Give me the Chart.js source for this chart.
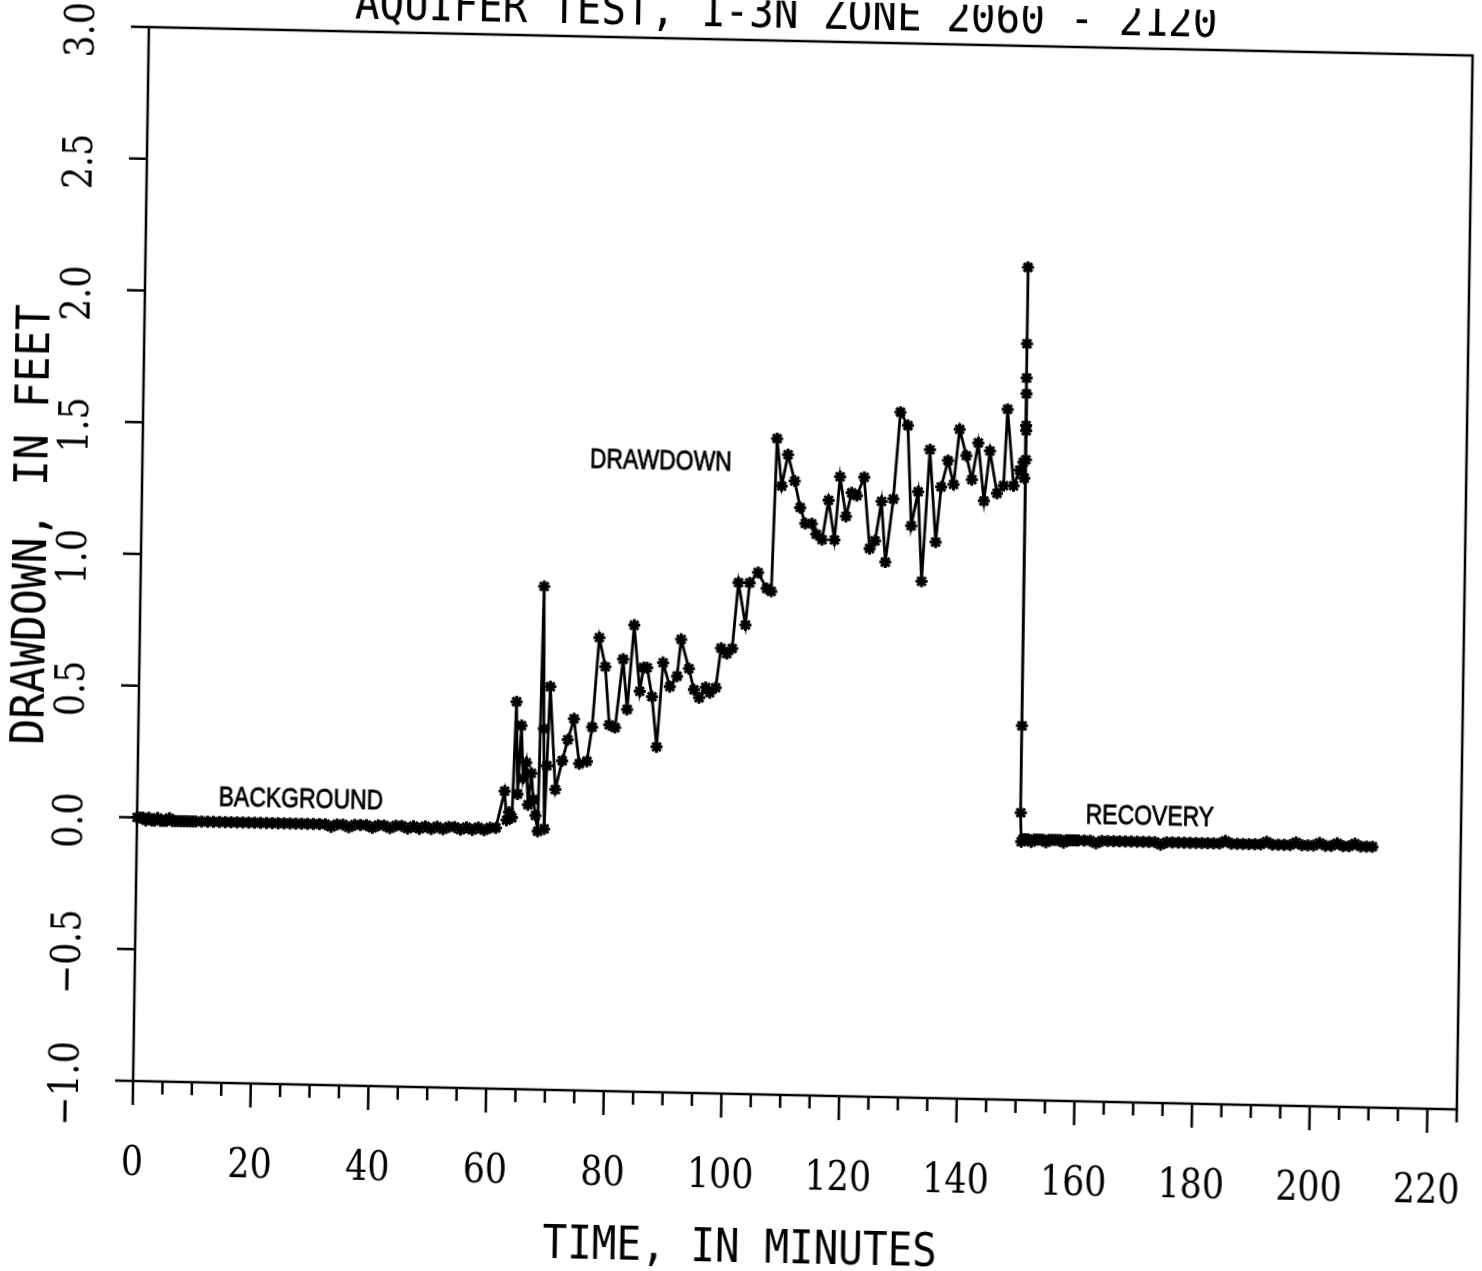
<!DOCTYPE html>
<html>
<head>
<meta charset="utf-8">
<title>Aquifer test 1-3N</title>
<script src="https://cdn.jsdelivr.net/npm/chart.js@4.4.1/dist/chart.umd.min.js"></script>
<style>
  html, body { margin: 0; padding: 0; background: #fff; overflow: hidden; }
  /* el trazado original sale torcido: giro + un poco de cizalla */
  #grafico { display: block; transform: matrix(1, 0.0215, -0.015, 1, 0, 0); transform-origin: 50% 50%; }
</style>
</head>
<body>
<canvas id="grafico" width="1482" height="1271"></canvas>
<script>
// Datos del ensayo (minutos / pies)

// Fondo antes del bombeo
const bgTime = [0, 0.5, 1, 1.5, 2, 2.5, 3, 3.5, 4, 4.5, 5, 5.5, 6, 6.5, 7, 7.5, 8, 8.5, 9, 9.5, 10,
  11, 12, 13, 14, 15, 16, 17, 18, 19, 20, 21, 22, 23, 24, 25, 26, 27, 28, 29, 30,
  31, 32, 33, 34, 35, 36, 37, 38, 39, 40, 41, 42, 43, 44, 45, 46, 47, 48, 49, 50,
  51, 52, 53, 54, 55, 56, 57, 58, 59, 60, 61];
const bgDrawdown = [0.00, 0.00, 0.00, -0.01, 0.00, -0.01, -0.01, 0.00, -0.01, -0.01, -0.01, 0.00, -0.01, -0.01, -0.01, -0.01, -0.01, -0.01, -0.01, -0.01, -0.01,
  -0.01, -0.01, -0.01, -0.01, -0.01, -0.01, -0.01, -0.01, -0.01, -0.01,
  -0.01, -0.01, -0.01, -0.01, -0.01, -0.01, -0.01, -0.01, -0.01, -0.01,
  -0.01, -0.01, -0.02, -0.01, -0.01, -0.02, -0.01, -0.01, -0.01, -0.02,
  -0.01, -0.01, -0.02, -0.01, -0.01, -0.02, -0.01, -0.02, -0.01, -0.02,
  -0.01, -0.02, -0.01, -0.01, -0.02, -0.01, -0.02, -0.01, -0.02, -0.01, -0.01];

// Bombeo (descenso)
const pumpTime = [62.4, 62.8, 63.2, 63.7, 64.2, 64.6, 65.1, 65.5, 66.0, 66.4, 66.9, 67.3, 67.7, 68.1,
  68.6, 68.9, 69.2, 69.5, 69.9, 71.0, 72.1, 73.0, 74.0, 75.0, 76.3, 77.1, 78.1, 79.2, 80.0,
  81.0, 82.2, 83.0, 84.0, 85.1, 85.7, 86.3, 87.2, 88.1, 89.0, 90.2, 91.4, 92.0, 93.4, 94.3,
  95.2, 96.3, 97.0, 98.0, 98.8, 99.8, 100.7, 101.6, 102.9, 103.5, 104.9, 106.4, 107.2, 107.8,
  108.7, 109.7, 110.9, 111.9, 112.8, 113.9, 114.7, 115.7, 116.7, 117.8, 118.6, 119.7, 120.6,
  121.5, 122.7, 123.8, 124.7, 125.7, 126.5, 127.7, 128.7, 130.0, 130.8, 131.9, 132.7, 133.8,
  135.0, 135.8, 136.9, 137.9, 138.8, 140.0, 141.0, 142.0, 143.1, 144.0, 145.3, 146.4, 146.9,
  148.1, 149.1, 149.7, 149.9, 150.0, 150.02, 150.04, 150.06, 150.08, 150.1, 150.12, 150.14, 150.16];
const pumpDrawdown = [0.13, 0.02, 0.05, 0.03, 0.47, 0.12, 0.38, 0.18, 0.24, 0.08, 0.20, 0.10, 0.04, -0.02,
  0.91, 0.37, -0.01, 0.23, 0.53, 0.14, 0.25, 0.33, 0.41, 0.24, 0.25, 0.38, 0.72, 0.61, 0.39,
  0.38, 0.64, 0.45, 0.77, 0.52, 0.61, 0.61, 0.50, 0.31, 0.63, 0.54, 0.58, 0.72, 0.61, 0.53,
  0.50, 0.54, 0.52, 0.54, 0.69, 0.67, 0.69, 0.94, 0.78, 0.94, 0.98, 0.92, 0.91, 1.49,
  1.31, 1.43, 1.33, 1.23, 1.17, 1.17, 1.13, 1.11, 1.26, 1.11, 1.35, 1.20, 1.29,
  1.28, 1.35, 1.08, 1.11, 1.26, 1.03, 1.27, 1.60, 1.55, 1.17, 1.30, 0.96, 1.46,
  1.11, 1.32, 1.42, 1.33, 1.54, 1.44, 1.35, 1.49, 1.27, 1.46, 1.30, 1.33, 1.62,
  1.33, 1.39, 1.42, 1.36, 2.16, 1.87, 1.74, 1.68, 1.56, 1.54, 1.43, 0.42, 0.09];

// Recuperacion
const recTime = [150.3, 150.6, 151, 151.5, 152, 152.5, 153, 153.5, 154, 154.5, 155, 155.5, 156, 156.5,
  157, 157.5, 158, 158.5, 159, 159.5,
  160, 161, 162, 163, 164, 165, 166, 167, 168, 169, 170, 171, 172, 173, 174, 175, 176, 177, 178, 179,
  180, 181, 182, 183, 184, 185, 186, 187, 188, 189, 190, 191, 192, 193, 194, 195, 196, 197, 198, 199,
  200, 201, 202, 203, 204, 205, 206, 207, 208, 209, 210];
const recDrawdown = [-0.02, -0.01, -0.01, -0.01, -0.02, -0.01, -0.01, -0.01, -0.01, -0.02, -0.01, -0.01, -0.01, -0.01,
  -0.01, -0.02, -0.01, -0.01, -0.01, -0.01,
  -0.01, -0.01, -0.01, -0.02, -0.01, -0.01, -0.01, -0.01, -0.01, -0.01,
  -0.01, -0.01, -0.01, -0.01, -0.02, -0.01, -0.01, -0.01, -0.01, -0.01,
  -0.01, -0.01, -0.01, -0.01, -0.01, 0.00, -0.01, -0.01, -0.01, -0.01,
  -0.01, -0.01, 0.00, -0.01, -0.01, -0.01, -0.01, 0.00, -0.01, -0.01,
  -0.01, 0.00, -0.01, -0.01, 0.00, -0.01, -0.01, 0.00, -0.01, -0.01, -0.01];

// Ejes
const xMax = 225;
const yMin = -1;
const yMax = 3;
const xTicks = [0, 20, 40, 60, 80, 100, 120, 140, 160, 180, 200, 220];
const xTickLabels = ["0", "20", "40", "60", "80", "100", "120", "140", "160", "180", "200", "220"];
const yTicks = [-1, -0.5, 0, 0.5, 1, 1.5, 2, 2.5, 3];
const yTickLabels = ["\u22121.0", "\u22120.5", "0.0", "0.5", "1.0", "1.5", "2.0", "2.5", "3.0"];

// Rotulos dentro del grafico: [texto, minuto, pies]
const rotulos = [
  ["BACKGROUND", 27.8, 0.091],
  ["DRAWDOWN", 88.1, 1.403],
  ["RECOVERY", 172.1, 0.093]
];

// Una sola serie: la linea del plotter no se corta entre fases
function juntaPuntos() {
  const puntos = [];
  const fases = [[bgTime, bgDrawdown], [pumpTime, pumpDrawdown], [recTime, recDrawdown]];
  fases.forEach(function (f) {
    f[0].forEach(function (t, i) {
      puntos.push({ x: t, y: f[1][i] });
    });
  });
  return puntos;
}

// Texto con estrechamiento horizontal (letra de plotter)
function texto(ctx, str, x, y, font, sx, girado, base, grosor) {
  ctx.save();
  ctx.translate(x, y);
  if (girado) ctx.rotate(-Math.PI / 2);
  ctx.scale(sx, 1);
  ctx.font = font;
  ctx.textAlign = "center";
  ctx.textBaseline = "alphabetic";
  ctx.fillText(str, 0, base);
  if (grosor) {
    ctx.lineWidth = grosor;
    ctx.strokeText(str, 0, base);
  }
  ctx.restore();
}

// Marco, marcas, etiquetas y titulos
const decorado = {
  id: "decorado",
  afterDraw: function (chart) {
    const ctx = chart.ctx;
    const a = chart.chartArea;
    const sx = chart.scales.x;
    const sy = chart.scales.y;

    ctx.save();
    ctx.strokeStyle = "#000";
    ctx.fillStyle = "#000";
    ctx.lineWidth = 2.5;
    ctx.strokeRect(a.left, a.top, a.right - a.left, a.bottom - a.top);

    ctx.beginPath();
    for (let t = 0; t <= xMax; t += 5) {
      const px = sx.getPixelForValue(t);
      const largo = t % 20 === 0 ? 24 : 13;
      ctx.moveTo(px, a.bottom);
      ctx.lineTo(px, a.bottom + largo);
    }
    yTicks.forEach(function (v) {
      const py = sy.getPixelForValue(v);
      ctx.moveTo(a.left, py);
      ctx.lineTo(a.left - 18, py);
    });
    ctx.stroke();

    const fuenteTicks = "41px 'DejaVu Serif', 'Liberation Serif', serif";
    xTicks.forEach(function (v, i) {
      texto(ctx, xTickLabels[i], sx.getPixelForValue(v), a.bottom + 94, fuenteTicks, 0.85, false, 0);
    });
    yTicks.forEach(function (v, i) {
      texto(ctx, yTickLabels[i], a.left - 70.5, sy.getPixelForValue(v) + 4, fuenteTicks, 0.85, true, 15);
    });

    const fuenteRotulo = "28px 'Liberation Sans', Arial, sans-serif";
    rotulos.forEach(function (r) {
      texto(ctx, r[0], sx.getPixelForValue(r[1]), sy.getPixelForValue(r[2]), fuenteRotulo, 0.82, false, 10, 0.8);
    });

    const fuenteTitulo = "46px 'DejaVu Sans Mono', monospace";
    texto(ctx, "AQUIFER TEST, 1-3N ZONE 2060 - 2120", 777, 10, fuenteTitulo, 0.89, false, 17);
    texto(ctx, "TIME, IN MINUTES", 749, 1245, fuenteTitulo, 0.89, false, 17);
    texto(ctx, "DRAWDOWN, IN FEET", 28, 540, "47px 'DejaVu Sans Mono', monospace", 0.915, true, 17);
    ctx.restore();
  }
};

function cargaGrafico() {
  var config = {
    type: "line",
    data: {
      datasets: [{
        data: juntaPuntos(),
        borderColor: "#000",
        borderWidth: 2.8,
        tension: 0,
        fill: false,
        pointStyle: "star",
        pointRadius: 6,
        pointBorderWidth: 3,
        pointBorderColor: "#000",
        pointBackgroundColor: "#000",
        clip: false
      }]
    },
    options: {
      responsive: false,
      animation: false,
      layout: { autoPadding: false, padding: { top: 40, right: 18, left: 0, bottom: 0 } },
      plugins: {
        legend: { display: false },
        tooltip: { enabled: false }
      },
      scales: {
        x: {
          type: "linear",
          min: 0,
          max: xMax,
          ticks: { display: false },
          grid: { display: false },
          border: { display: false },
          afterFit: function (s) { s.height = 177; }
        },
        y: {
          type: "linear",
          min: yMin,
          max: yMax,
          ticks: { display: false },
          grid: { display: false },
          border: { display: false },
          afterFit: function (s) { s.width = 140; }
        }
      }
    },
    plugins: [decorado]
  };

  new Chart(document.getElementById("grafico").getContext("2d"), config);
}

cargaGrafico();
</script>
</body>
</html>
